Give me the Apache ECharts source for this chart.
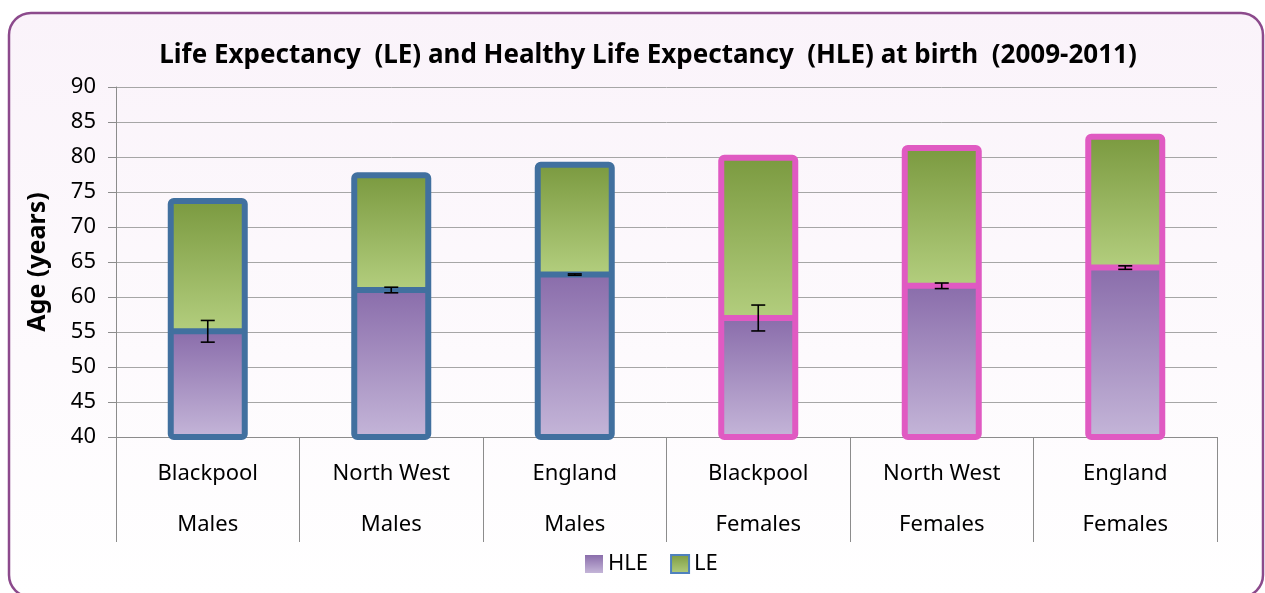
<!DOCTYPE html>
<html>
<head>
<meta charset="utf-8">
<script src="https://cdn.jsdelivr.net/npm/echarts@6/dist/echarts.min.js"></script>
<style>
  html, body { margin: 0; padding: 0; background: #fff; }
  #chart { width: 1265px; height: 593px; }
</style>
</head>
<body>
<div id="chart"></div>
<script>
// categories (two-level axis: area / sex)
const areas = ['Blackpool', 'North West', 'England', 'Blackpool', 'North West', 'England']
const sexes = ['Males', 'Males', 'Males', 'Females', 'Females', 'Females']
// values
const leValues = [73.7, 77.4, 78.9, 79.9, 81.3, 82.9]
const hleValues = [55.1, 61.0, 63.2, 57.0, 61.6, 64.2]
const hleErr = [1.55, 0.4, 0.1, 1.85, 0.4, 0.25]
const yTicks = { min: 40, max: 90, interval: 5 }

const FONT = 'Noto Sans'
const maleBorder = '#41709F'
const femaleBorder = '#E05AC2'
const BAR_W = 74

const hleFill = new echarts.graphic.LinearGradient(0, 0, 0, 1, [
  { offset: 0, color: '#8A6DAB' },
  { offset: 1, color: '#C4B5D8' },
])
const leFill = new echarts.graphic.LinearGradient(0, 0, 0, 1, [
  { offset: 0, color: '#7B9A40' },
  { offset: 1, color: '#B3CE7E' },
])

const borderFor = (i) => (sexes[i] === 'Males' ? maleBorder : femaleBorder)

//LE minus HLE, stacked on top of HLE
const leRest = leValues.map((v, i) => +(v - hleValues[i]).toFixed(2))
//frame: [index, LE, HLE]
const frameData = leValues.map((v, i) => [i, v, hleValues[i]])
//error bars
const errData = hleValues.map((v, i) => [i, v - hleErr[i], v + hleErr[i]])

const myChart = echarts.init(document.getElementById('chart'))

const option = {
  animation: false,
  textStyle: { fontFamily: FONT },
  graphic: [
    {
      type: 'rect',
      z: -10,
      shape: { x: 9, y: 13, width: 1254, height: 584, r: 22 },
      style: {
        fill: new echarts.graphic.LinearGradient(0, 0, 0, 1, [
          { offset: 0, color: '#FAF3FA' },
          { offset: 1, color: '#FFFFFF' },
        ]),
        stroke: '#8C4A8C',
        lineWidth: 2.5,
      },
    },
  ],
  title: {
    text: 'Life Expectancy  (LE) and Healthy Life Expectancy  (HLE) at birth  (2009-2011)',
    left: 643,
    textAlign: 'center',
    top: 38,
    textStyle: { fontFamily: FONT, fontSize: 26, fontWeight: 'bold', color: '#000' },
  },
  legend: {
    left: 580,
    top: 548,
    itemWidth: 18,
    itemHeight: 18,
    itemGap: 22,
    textStyle: { fontFamily: FONT, fontSize: 22, color: '#000' },
    data: [
      { name: 'HLE', icon: 'rect', itemStyle: { borderWidth: 0 } },
      { name: 'LE', icon: 'rect', itemStyle: { borderColor: '#4F81BD', borderWidth: 2 } },
    ],
  },
  grid: { left: 116, right: 48, top: 87, bottom: 156 },
  xAxis: {
    type: 'category',
    data: areas,
    axisLine: { lineStyle: { color: '#8C8C8C', width: 1 } },
    axisTick: { show: true, length: 105, lineStyle: { color: '#8C8C8C' } },
    axisLabel: {
      interval: 0,
      margin: 11,
      lineHeight: 51,
      fontSize: 22,
      color: '#000',
      fontFamily: FONT,
      formatter: (val, idx) => val + '\n' + sexes[idx],
    },
  },
  yAxis: {
    type: 'value',
    min: yTicks.min,
    max: yTicks.max,
    interval: yTicks.interval,
    name: 'Age (years)',
    nameLocation: 'middle',
    nameGap: 66,
    nameRotate: 90,
    nameTextStyle: { fontFamily: FONT, fontSize: 25, fontWeight: 'bold', color: '#000' },
    axisLine: { show: true, lineStyle: { color: '#8C8C8C' } },
    axisTick: { show: true, length: 8, lineStyle: { color: '#8C8C8C' } },
    axisLabel: { fontSize: 22, color: '#000', margin: 20, fontFamily: FONT },
    splitLine: { lineStyle: { color: '#A6A6A6', width: 1 } },
  },
  series: [
    {
      name: 'HLE',
      type: 'bar',
      stack: 'le',
      barWidth: BAR_W,
      itemStyle: { color: hleFill },
      data: hleValues,
    },
    {
      name: 'LE',
      type: 'bar',
      stack: 'le',
      barWidth: BAR_W,
      itemStyle: { color: leFill },
      data: leRest,
    },
    {
      //outline round the whole bar and the HLE/LE divider
      name: 'frame',
      type: 'custom',
      z: 5,
      silent: true,
      data: frameData,
      renderItem: function (params, api) {
        const i = api.value(0)
        const top = api.coord([i, api.value(1)])
        const base = api.coord([i, yTicks.min])
        const mid = api.coord([i, api.value(2)])
        const half = BAR_W / 2
        const color = borderFor(params.dataIndex)
        return {
          type: 'group',
          children: [
            {
              type: 'rect',
              shape: { x: top[0] - half, y: top[1], width: BAR_W, height: base[1] - top[1], r: 3 },
              style: { fill: null, stroke: color, lineWidth: 6 },
            },
            {
              type: 'line',
              shape: { x1: mid[0] - half, y1: mid[1], x2: mid[0] + half, y2: mid[1] },
              style: { stroke: color, lineWidth: 6 },
            },
          ],
        }
      },
    },
    {
      name: 'err',
      type: 'custom',
      z: 10,
      silent: true,
      data: errData,
      renderItem: function (params, api) {
        const x = api.coord([api.value(0), api.value(1)])[0]
        const lo = api.coord([api.value(0), api.value(1)])[1]
        const hi = api.coord([api.value(0), api.value(2)])[1]
        const half = 7
        const style = { stroke: '#000', lineWidth: 1.6 }
        return {
          type: 'group',
          children: [
            { type: 'line', shape: { x1: x, y1: lo, x2: x, y2: hi }, style },
            { type: 'line', shape: { x1: x - half, y1: lo, x2: x + half, y2: lo }, style },
            { type: 'line', shape: { x1: x - half, y1: hi, x2: x + half, y2: hi }, style },
          ],
        }
      },
    },
  ],
}

option && myChart.setOption(option)
</script>
</body>
</html>
